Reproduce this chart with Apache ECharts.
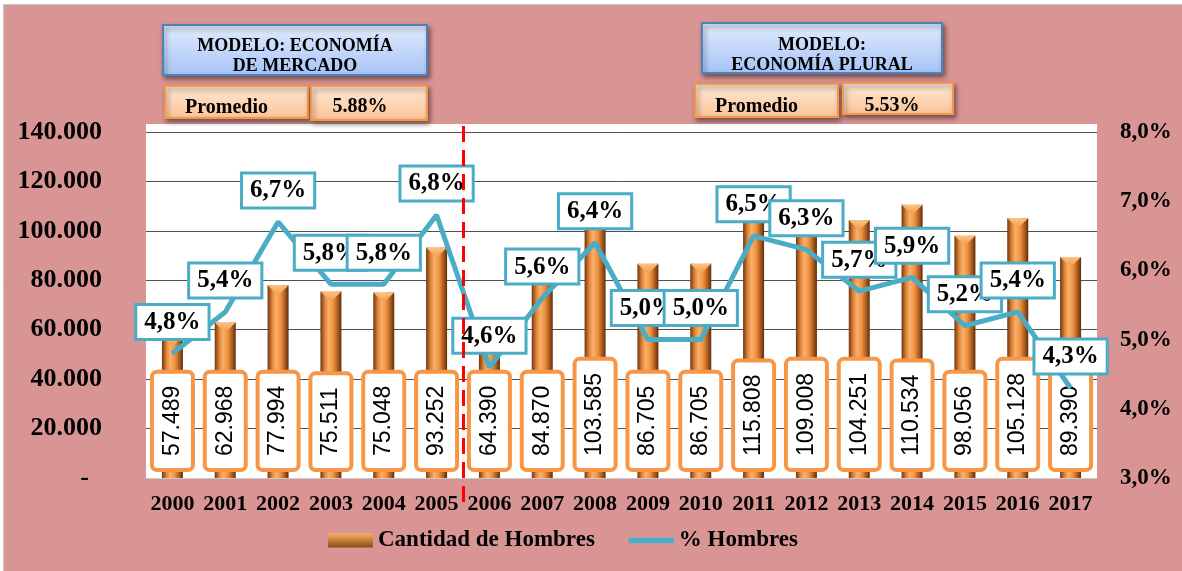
<!DOCTYPE html>
<html lang="es">
<head>
<meta charset="UTF-8">
<title>Cantidad de Hombres</title>
<script src="https://cdn.jsdelivr.net/npm/echarts@6/dist/echarts.min.js"></script>
<style>
  html, body { margin: 0; padding: 0; background: #fff; }
  #chart { width: 1182px; height: 571px; }
</style>
</head>
<body>
<div id="chart"></div>
<script>
  // datos
  const years = ['2000', '2001', '2002', '2003', '2004', '2005', '2006', '2007', '2008',
    '2009', '2010', '2011', '2012', '2013', '2014', '2015', '2016', '2017'];
  const hombres = [57489, 62968, 77994, 75511, 75048, 93252, 64390, 84870, 103585,
    86705, 86705, 115808, 109008, 104251, 110534, 98056, 105128, 89390];
  const pctHombres = [4.8, 5.4, 6.7, 5.8, 5.8, 6.8, 4.6, 5.6, 6.4,
    5.0, 5.0, 6.5, 6.3, 5.7, 5.9, 5.2, 5.4, 4.3];
  const modelos = ['MODELO: ECONOMÍA\nDE MERCADO', 'MODELO:\nECONOMÍA PLURAL'];
  const promedios = ['5.88%', '5.53%'];
  const seriesNames = ['Cantidad de Hombres', '% Hombres'];

  const serif = '"Liberation Serif", "Times New Roman", serif';
  const sans = '"Liberation Sans", Arial, sans-serif';

  const miles = v => String(v).replace(/\B(?=(\d{3})+(?!\d))/g, '.');
  const pct = v => v.toFixed(1).replace('.', ',') + '%';

  const grad = (c1, c2) => new echarts.graphic.LinearGradient(0, 0, 0, 1, [
    { offset: 0, color: c1 }, { offset: 1, color: c2 }
  ]);

  // cajas de texto
  function caja(id, x, y, w, h, fill, border) {
    return {
      id: id, type: 'rect', z: 20,
      shape: { x: x, y: y, width: w, height: h },
      style: {
        fill: fill, stroke: border, lineWidth: 2,
        shadowBlur: 5, shadowOffsetX: 2, shadowOffsetY: 3, shadowColor: 'rgba(0,0,0,0.45)'
      }
    };
  }
  function texto(id, x, y, str, size, align) {
    return {
      id: id, type: 'text', z: 21,
      style: {
        x: x, y: y, text: str, fill: '#000', align: align || 'center', verticalAlign: 'middle',
        font: 'bold ' + size + 'px ' + serif, lineHeight: 20
      }
    };
  }
  const azul = () => grad('#e2ecfd', '#a6c3f6');
  const naranja = () => grad('#fee9d8', '#fbc395');

  const graphics = [
    { id: 'fondoTop', type: 'rect', z: -10, shape: { x: 0, y: 0, width: 1182, height: 4 }, style: { fill: '#fff' } },
    { id: 'fondoIzq', type: 'rect', z: -10, shape: { x: 0, y: 0, width: 3, height: 571 }, style: { fill: '#fff' } },
    { id: 'bordeTop', type: 'line', z: -9, shape: { x1: 3, y1: 4.5, x2: 1182, y2: 4.5 }, style: { stroke: '#c8c8c8', lineWidth: 1 } },
    { id: 'bordeIzq', type: 'line', z: -9, shape: { x1: 3.5, y1: 4, x2: 3.5, y2: 571 }, style: { stroke: '#c8c8c8', lineWidth: 1 } },
    { id: 'plotTop', type: 'rect', z: -5, shape: { x: 146, y: 124, width: 951, height: 9 }, style: { fill: '#fff' } },

    caja('m1', 163, 25, 264, 50, azul(), '#4f81bd'),
    texto('m1t', 295, 56, modelos[0], 18),
    caja('p1', 165, 86, 143, 32, naranja(), '#f79646'),
    texto('p1t', 185, 108, 'Promedio', 20, 'left'),
    caja('v1', 311, 86, 116, 34, naranja(), '#f79646'),
    texto('v1t', 360, 107, promedios[0], 20),

    caja('m2', 702, 23, 240, 50, azul(), '#4f81bd'),
    texto('m2t', 822, 55, modelos[1], 18),
    caja('p2', 695, 84, 143, 33, naranja(), '#f79646'),
    texto('p2t', 715, 107, 'Promedio', 20, 'left'),
    caja('v2', 843, 83, 110, 31, naranja(), '#f79646'),
    texto('v2t', 892, 106, promedios[1], 20)
  ];

  const chart = echarts.init(document.getElementById('chart'));
  chart.setOption({
    backgroundColor: '#d99594',
    animation: false,
    graphic: graphics,
    grid: {
      left: 146, right: 85, top: 132, bottom: 93,
      show: true, backgroundColor: '#fff', borderWidth: 0
    },
    legend: {
      left: 323, top: 524,
      itemWidth: 45, itemHeight: 14, itemGap: 34,
      textStyle: { fontFamily: serif, fontWeight: 'bold', fontSize: 23, color: '#000' },
      data: [
        { name: seriesNames[0], icon: 'rect', itemStyle: { color: grad('#fbb060', '#8a4a17') } },
        { name: seriesNames[1], icon: 'path://M0,0 L50,0 L50,6 L0,6 Z' }
      ]
    },
    xAxis: {
      type: 'category',
      data: years,
      axisLine: { lineStyle: { color: '#c9c9c9', width: 1 } },
      axisTick: { show: false },
      axisLabel: {
        margin: 15, interval: 0,
        fontFamily: serif, fontWeight: 'bold', fontSize: 22, color: '#000'
      }
    },
    yAxis: [{
      type: 'value', min: 0, max: 140000, interval: 20000,
      axisLine: { show: false }, axisTick: { show: false },
      splitLine: { lineStyle: { color: '#505050', width: 1 } },
      axisLabel: {
        margin: 44, fontFamily: serif, fontWeight: 'bold', fontSize: 26, color: '#000',
        formatter: v => v === 0 ? '-  ' : miles(v)
      }
    }, {
      type: 'value', min: 3, max: 8, interval: 1,
      axisLine: { show: false }, axisTick: { show: false },
      splitLine: { show: false },
      axisLabel: {
        margin: 23, fontFamily: serif, fontWeight: 'bold', fontSize: 23, color: '#000',
        formatter: v => pct(v)
      }
    }],
    series: [{
      name: seriesNames[0],
      type: 'bar',
      barWidth: 21,
      z: 2,
      data: hombres,
      itemStyle: {
        color: new echarts.graphic.LinearGradient(0, 0, 1, 0, [
          { offset: 0, color: '#6e370f' },
          { offset: 0.22, color: '#e0853a' },
          { offset: 0.4, color: '#fbb06a' },
          { offset: 0.62, color: '#ee9240' },
          { offset: 0.85, color: '#a5561c' },
          { offset: 1, color: '#5a2d0b' }
        ])
      },
      label: {
        show: true,
        position: 'insideBottom',
        distance: 10,
        rotate: 90,
        align: 'left',
        verticalAlign: 'middle',
        formatter: p => miles(p.value),
        fontFamily: sans, fontSize: 23, lineHeight: 24, color: '#000',
        backgroundColor: '#fff',
        borderColor: '#f79646', borderWidth: 4, borderRadius: 3,
        padding: [7, 12, 6, 12]
      }
    }, {
      name: 'tapa',
      type: 'pictorialBar',
      symbol: 'path://M0,0 L20,0 L10,10 Z',
      symbolSize: [21, 10],
      symbolPosition: 'end',
      z: 3,
      silent: true,
      itemStyle: { color: grad('#fcc283', '#f19a48') },
      data: hombres
    }, {
      name: seriesNames[1],
      type: 'line',
      yAxisIndex: 1,
      z: 5,
      data: pctHombres,
      symbol: 'circle',
      symbolSize: 1,
      lineStyle: { color: '#4bacc6', width: 5 },
      itemStyle: { color: '#4bacc6' },
      label: {
        show: true,
        position: 'top',
        distance: 15,
        formatter: p => pct(p.value),
        fontFamily: serif, fontWeight: 'bold', fontSize: 25, color: '#000',
        backgroundColor: '#fff',
        borderColor: '#4bacc6', borderWidth: 3,
        padding: [4, 7, 3, 7]
      }
    }]
  });

  // línea divisoria entre 2005 y 2006
  const xa = chart.convertToPixel({ xAxisIndex: 0 }, years[5]);
  const xb = chart.convertToPixel({ xAxisIndex: 0 }, years[6]);
  const xm = Math.round((xa + xb) / 2) + 0.5;
  chart.setOption({
    graphic: [{
      id: 'divisor', type: 'line', z: 30,
      shape: { x1: xm, y1: 126, x2: xm, y2: 502 },
      style: { stroke: '#ff0000', lineWidth: 3, lineDash: [16, 8] }
    }]
  });
</script>
</body>
</html>
